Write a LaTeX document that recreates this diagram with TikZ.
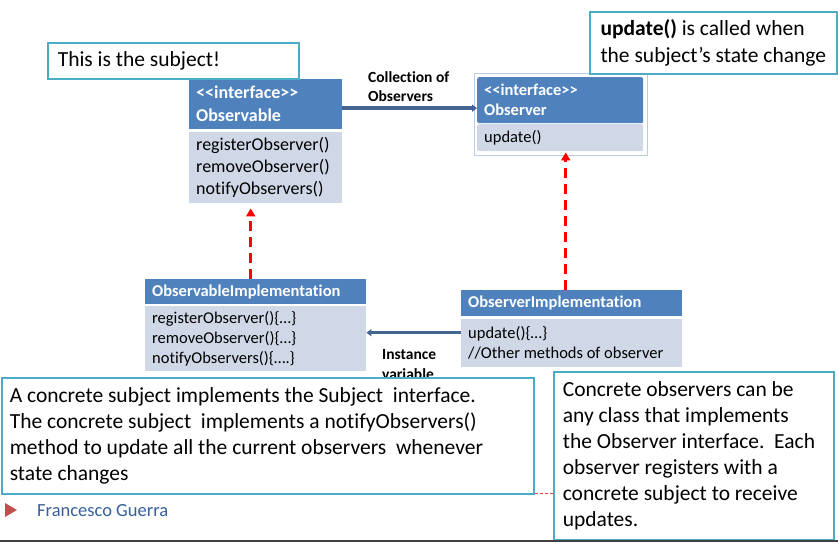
\documentclass[tikz,border=0pt]{standalone}
\usepackage{fontspec}
\setmainfont{Carlito}[Ligatures={TeX,NoCommon}]
\usepackage{xcolor}
\usepackage{tikz}
\usetikzlibrary{arrows.meta}

\definecolor{hdrblue}{HTML}{4F81BD}
\definecolor{bodygray}{HTML}{D0D8E8}
\definecolor{noteaqua}{HTML}{4BACC6}
\definecolor{linkblue}{HTML}{44658F}
\definecolor{footred}{HTML}{C0504D}
\definecolor{footblue}{HTML}{365F9C}
\definecolor{framegray}{HTML}{B9CDE5}

\tikzset{
  hdr/.style={anchor=north west, fill=hdrblue, text=white, align=flush left, inner xsep=7pt, inner ysep=1pt},
  bdy/.style={anchor=north west, fill=bodygray, align=flush left, inner xsep=7pt, inner ysep=1pt},
  note/.style={anchor=north west, draw=noteaqua, line width=1.6pt, fill=white, align=flush left},
  impl/.style={red, line width=3pt, dash pattern=on 10pt off 6pt, -{Triangle[width=9pt,length=8pt]}},
  link/.style={linkblue, -{Triangle[width=7pt,length=5pt]}},
  lbl/.style={anchor=west, align=flush left, inner sep=0pt}
}

\begin{document}
\begin{tikzpicture}[x=1pt,y=-1pt]
  \useasboundingbox (0,0) rectangle (838,542);
  \node[hdr, text width=139pt, minimum height=50pt, font=\bfseries\fontsize{18}{23}\selectfont] (obsH) at (189,79) {<{}<interface>{}>\\Observable};
  \node[bdy, text width=139pt, minimum height=71pt, font=\fontsize{18}{22}\selectfont] (obsB) at (189,132) {registerObserver()\\removeObserver()\\notifyObservers()};
  \node[hdr, rounded corners=2pt, text width=152pt, minimum height=46pt, font=\bfseries\fontsize{16.5}{20}\selectfont] (obH) at (477,77) {<{}<interface>{}>\\Observer};
  \node[bdy, rounded corners=2pt, text width=152pt, minimum height=27pt, font=\fontsize{16.5}{20}\selectfont] (obB) at (477,124) {update()};
  \draw[framegray, line width=0.6pt] ([shift={(-3pt,4pt)}]obH.north west) rectangle ([shift={(4pt,-4pt)}]obB.south east);
  \node[hdr, text width=207pt, minimum height=25pt, font=\bfseries\fontsize{16.5}{20}\selectfont] (oiH) at (145,279) {ObservableImplementation};
  \node[bdy, text width=207pt, minimum height=65pt, font=\fontsize{16.5}{20}\selectfont] (oiB) at (145,306) {registerObserver()\{…\}\\removeObserver()\{…\}\\notifyObservers()\{….\}};
  \node[hdr, text width=207pt, minimum height=26pt, font=\bfseries\fontsize{16.5}{20}\selectfont] (riH) at (461,290) {ObserverImplementation};
  \node[bdy, text width=207pt, minimum height=48pt, font=\fontsize{16.5}{20}\selectfont] (riB) at (461,319) {update()\{…\}\\//Other methods of observer};

  \node[lbl, font=\bfseries\fontsize{15.5}{19}\selectfont] (colLbl) at (368,87) {Collection of\\Observers};
  \node[lbl, font=\bfseries\fontsize{15.5}{20}\selectfont] (instLbl) at (382,365) {Instance\\variable};

  \draw[impl, shorten >=5pt] ([xshift=-5pt]oiH.north) -- ([xshift=-5pt]oiH.north |- obsB.south);
  \draw[impl, shorten >=1pt] ([xshift=-6pt]riH.north) -- ([xshift=-6pt]riH.north |- obB.south);
  \draw[link, line width=3.5pt] ([yshift=-4pt]obsH.east) -- ([yshift=-4pt]obsH.east -| obH.west);
  \draw[link, line width=2.5pt] ([yshift=10.5pt]riB.west) -- ([yshift=10.5pt]riB.west -| oiB.east);

  \node[note, text width=231pt, inner xsep=10pt, minimum height=36pt, font=\fontsize{21.5}{26}\selectfont] (subjNote) at (47,42) {This is the subject!};
  \node[note, minimum width=247pt, minimum height=62pt, font=\fontsize{21.5}{27}\selectfont] (updNote) at (589,11) {\textbf{update()} is called when\\the subject’s state change};
  \node[note, text width=516pt, inner xsep=8pt, minimum height=116pt, font=\fontsize{21.5}{26}\selectfont] (concNote) at (1,377) {A concrete subject implements the Subject\ \ interface.\\The concrete subject\ \ implements a notifyObservers()\\method to update all the current observers\ \ whenever\\state changes};
  \node[note, text width=262pt, inner xsep=9pt, minimum height=168pt, font=\fontsize{21.5}{26}\selectfont] (obsNote) at (553,371) {Concrete observers can be\\any class that implements\\the Observer interface.\ \ Each\\observer registers with a\\concrete subject to receive\\updates.};
  \draw[red!80!white, line width=0.6pt, dash pattern=on 3pt off 2pt] ([yshift=1pt]concNote.south east) -- ([yshift=1pt]concNote.south east -| obsNote.west);

  \fill[footred] (5,503) -- (17,510) -- (5,517) -- cycle;
  \node[anchor=base west, inner sep=0pt, text=footblue, font=\fontsize{18.5}{22}\selectfont] (author) at (37,516) {Francesco Guerra};
  \draw[line width=2pt, black!75] (0,541) -- (838,541);
\end{tikzpicture}
\end{document}
